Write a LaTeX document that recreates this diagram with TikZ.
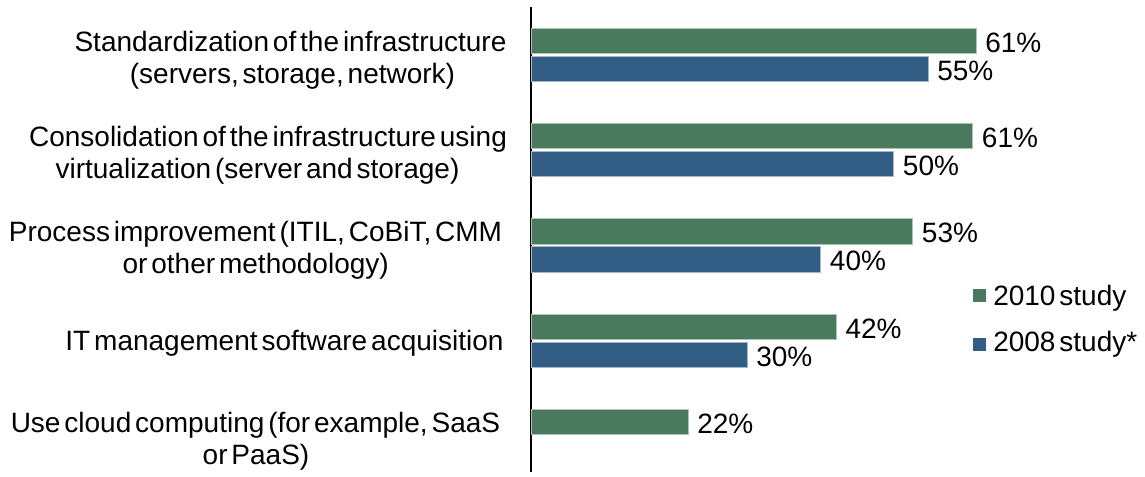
\documentclass[tikz,border=0pt]{standalone}
\usepackage{fontspec}
\setmainfont{Liberation Sans}[WordSpace=0.5]
\definecolor{barGreen}{RGB}{74,122,94}
\definecolor{barBlue}{RGB}{50,94,134}
\tikzset{
  px/.style={x=0.75pt,y=-0.75pt},
  txt/.style={font=\fontsize{21}{25}\selectfont,inner sep=0pt,anchor=base,text=black},
  val/.style={font=\fontsize{21}{25}\selectfont,inner sep=0pt,anchor=base west,text=black},
  greenbar/.style={fill=barGreen,draw=barGreen!45!white,line width=0.4pt},
  bluebar/.style={fill=barBlue,draw=barBlue!45!white,line width=0.4pt},
  axisline/.style={draw=black,line width=1.5pt},
  legkey/.style={minimum size=9.75pt,inner sep=0pt,anchor=center},
}
\begin{document}
\begin{tikzpicture}[px]
\useasboundingbox (0,0) rectangle (1145,476);
\fill[white] (0,0) rectangle (1145,476);

% category axis
\coordinate (axTop) at (531,7);
\coordinate (axBot) at (531,472);
\draw[axisline] (axTop) -- (axBot);

% bars: green = 2010 study, blue = 2008 study
\draw[greenbar] (531,28)    rectangle (976,53.3)    node (g1) {};
\draw[bluebar]  (531,56)    rectangle (928,81.3)    node (b1) {};
\draw[greenbar] (531,123.3) rectangle (972.7,148.6) node (g2) {};
\draw[bluebar]  (531,151.3) rectangle (893.7,176.6) node (b2) {};
\draw[greenbar] (531,218.5) rectangle (912.7,243.8) node (g3) {};
\draw[bluebar]  (531,246.5) rectangle (820.7,271.8) node (b3) {};
\draw[greenbar] (531,313.8) rectangle (836.3,339.1) node (g4) {};
\draw[bluebar]  (531,341.8) rectangle (747,367.1)   node (b4) {};
\draw[greenbar] (531,409)   rectangle (688,434.3)   node (g5) {};

% value labels
\node[val] (vg1) at (985,52.3)    {61\%};
\node[val] (vb1) at (937,80.2)    {55\%};
\node[val] (vg2) at (981.7,147.5) {61\%};
\node[val] (vb2) at (902.7,175.5) {50\%};
\node[val] (vg3) at (921.7,242.7) {53\%};
\node[val] (vb3) at (829.7,270.7) {40\%};
\node[val] (vg4) at (845.3,338)   {42\%};
\node[val] (vb4) at (756,366)     {30\%};
\node[val] (vg5) at (697,433.2)   {22\%};

% category labels
\node[txt] (c1a) at (290.5,51)  {Standardization of the infrastructure};
\node[txt] (c1b) at (292.5,83)  {(servers, storage, network)};
\node[txt] (c2a) at (268,146.5) {Consolidation of the infrastructure using};
\node[txt] (c2b) at (257.5,178.5) {virtualization (server and storage)};
\node[txt] (c3a) at (255.5,241.5) {Process improvement (ITIL, CoBiT, CMM};
\node[txt] (c3b) at (255.7,273.5) {or other methodology)};
\node[txt] (c4a) at (284.5,350) {IT management software acquisition};
\node[txt] (c5a) at (255.5,432) {Use cloud computing (for example, SaaS};
\node[txt] (c5b) at (256,464)   {or PaaS)};

% legend
\node[legkey,fill=barGreen] (k1) at (979,295) {};
\node[legkey,fill=barBlue]  (k2) at (979,344.5) {};
\node[val] (l1) at (993,305)   {2010 study};
\node[val] (l2) at (993,351.5) {2008 study*};
\end{tikzpicture}
\end{document}
